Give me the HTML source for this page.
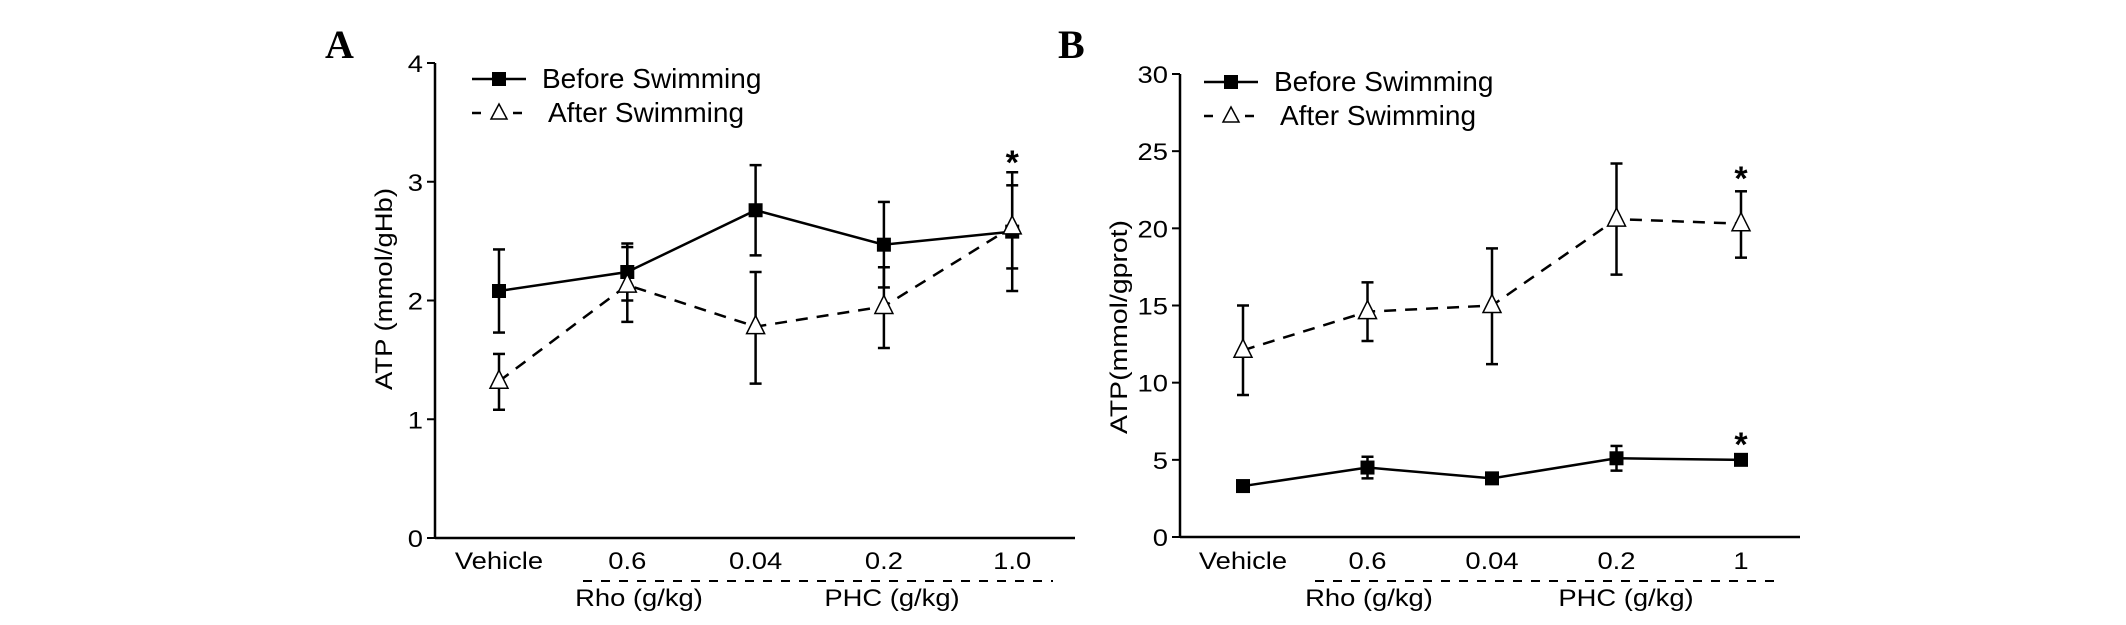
<!DOCTYPE html>
<html><head><meta charset="utf-8"><style>
html,body{margin:0;padding:0;background:#fff;}
svg{display:block;font-family:"Liberation Sans",Arial,sans-serif;}
</style></head><body>
<svg id="chart" width="2126" height="625" viewBox="0 0 2126 625"></svg>
<script>
const categories = ["Vehicle","0.6","0.04","0.2","1.0"];
const categoriesB = ["Vehicle","0.6","0.04","0.2","1"];
const beforeA = [2.08,2.24,2.76,2.47,2.58];
const beforeAErr = [0.35,0.24,0.38,0.36,0.5];
const afterA = [1.32,2.13,1.78,1.95,2.62];
const afterAErrHi = [0.23,0.32,0.46,0.33,0.35];
const afterAErrLo = [0.24,0.31,0.48,0.35,0.35];
const ticksA = [0,1,2,3,4];
const beforeB = [3.3,4.5,3.8,5.1,5.0];
const beforeBErr = [0.3,0.7,0.3,0.8,0.2];
const afterB = [12.1,14.6,15.0,20.6,20.3];
const afterBErrHi = [2.9,1.9,3.7,3.6,2.1];
const afterBErrLo = [2.9,1.9,3.8,3.6,2.2];
const ticksB = [0,5,10,15,20,25,30];

const NS="http://www.w3.org/2000/svg";
const svg=document.getElementById('chart');
const stretch=[];
function mk(tag,attrs,parent,text){const e=document.createElementNS(NS,tag);for(const k in attrs)e.setAttribute(k,attrs[k]);if(text!==undefined)e.textContent=text;(parent||svg).appendChild(e);return e;}
function tx(attrs,parent,text,target){const e=mk('text',attrs,parent,text);stretch.push([e,target]);return e;}

function panel(o){
  const g=mk('g',{});
  
  
  const y=v=>o.y0-(v-o.vmin)/(o.vmax-o.vmin)*(o.y0-o.y1);
  const x=i=>o.cx0+i*o.step;
  const lt=mk('text',{x:o.lx,y:o.ly,'font-family':'Liberation Serif,serif','font-weight':'bold','font-size':40},g,o.letter);
  
  const ya=mk('line',{x1:o.ax,y1:o.y1,x2:o.ax,y2:o.y0,stroke:'#000','stroke-width':2.5},g);
  
  const xa=mk('line',{x1:o.ax,y1:o.y0,x2:o.xend,y2:o.y0,stroke:'#000','stroke-width':2.5},g);
  
  o.ticks.forEach(t=>{
    mk('line',{x1:o.ax-8,y1:y(t),x2:o.ax,y2:y(t),stroke:'#000','stroke-width':2},g);
    const tl=tx({x:o.ax-12,y:y(t)+9,'text-anchor':'end','font-size':24},g,t);
    
  });
  o.cats.forEach((c,i)=>{
    const tl=tx({x:x(i),y:569,'text-anchor':'middle','font-size':24},g,c);
    
  });
  const yt=tx({x:o.ytx,y:o.yty,'text-anchor':'middle','font-size':24,transform:`rotate(-90 ${o.ytx} ${o.yty})`},g,o.ytitle,o.ytlen);
  
  const dl=mk('line',{x1:o.dx1,y1:581,x2:o.dx2,y2:581,stroke:'#000','stroke-width':2,'stroke-dasharray':'9,9'},g);
  
  const r=tx({x:o.rho,y:606,'text-anchor':'middle','font-size':24},g,'Rho (g/kg)');
  
  const p=tx({x:o.phc,y:606,'text-anchor':'middle','font-size':24},g,'PHC (g/kg)');
  
  function eb(i,hi,lo,name){
    const e=mk('g',{stroke:'#000','stroke-width':2.5},g);
    
    mk('line',{x1:x(i),y1:y(hi),x2:x(i),y2:y(lo)},e);
    mk('line',{x1:x(i)-6,y1:y(hi),x2:x(i)+6,y2:y(hi)},e);
    mk('line',{x1:x(i)-6,y1:y(lo),x2:x(i)+6,y2:y(lo)},e);
  }
  o.after.forEach((v,i)=>eb(i,v+o.aHi[i],v-o.aLo[i],'after-error-bar'));
  o.before.forEach((v,i)=>eb(i,v+o.bErr[i],v-o.bErr[i],'before-error-bar'));
  const la=mk('polyline',{points:o.after.map((v,i)=>x(i)+','+y(v)).join(' '),fill:'none',stroke:'#000','stroke-width':2.5,'stroke-dasharray':'12,9'},g);
  
  const lb=mk('polyline',{points:o.before.map((v,i)=>x(i)+','+y(v)).join(' '),fill:'none',stroke:'#000','stroke-width':2.5},g);
  
  o.before.forEach((v,i)=>{
    const m=mk('rect',{x:x(i)-7,y:y(v)-7,width:14,height:14,fill:'#000'},g);
    
  });
  o.after.forEach((v,i)=>{
    const m=mk('polygon',{points:`${x(i)},${y(v)-11} ${x(i)-9},${y(v)+7} ${x(i)+9},${y(v)+7}`,fill:'#fff',stroke:'#000','stroke-width':1.5},g);
    
  });
  o.stars.forEach(s=>{
    const st=mk('text',{x:x(4),y:s+18,'text-anchor':'middle','font-size':34,'font-weight':'bold'},g,'*');
    
  });
  const lg=mk('g',{},g);
  
  const e1=mk('g',{},lg);
  mk('line',{x1:o.legx-27,y1:o.legy,x2:o.legx+27,y2:o.legy,stroke:'#000','stroke-width':2.5},e1);
  mk('rect',{x:o.legx-7,y:o.legy-7,width:14,height:14,fill:'#000'},e1);
  mk('text',{x:o.legtx,y:o.legy+9,'font-size':28},e1,'Before Swimming');
  const e2=mk('g',{},lg);
  const ly2=o.legy+34;
  mk('line',{x1:o.legx-27,y1:ly2,x2:o.legx-18,y2:ly2,stroke:'#000','stroke-width':2.5},e2);
  mk('line',{x1:o.legx+14,y1:ly2,x2:o.legx+23,y2:ly2,stroke:'#000','stroke-width':2.5},e2);
  mk('polygon',{points:`${o.legx},${ly2-9} ${o.legx-8},${ly2+6} ${o.legx+8},${ly2+6}`,fill:'#fff',stroke:'#000','stroke-width':1.5},e2);
  mk('text',{x:o.legtx2,y:ly2+9,'font-size':28},e2,o.afterLabel);
}
panel({name:'panel-a',letter:'A',lx:325,ly:58,ax:435,xend:1075,y0:538,y1:63,vmin:0,vmax:4,ticks:ticksA,
  cx0:499,step:128.3,cats:categories,before:beforeA,bErr:beforeAErr,after:afterA,aHi:afterAErrHi,aLo:afterAErrLo,
  ytitle:'ATP (mmol/gHb)',ytx:392,yty:289,ytlen:202,dx1:583,dx2:1053,rho:639,phc:892,stars:[156],
  legx:499,legy:79,legtx:542,legtx2:548,afterLabel:'After Swimming'});
panel({name:'panel-b',letter:'B',lx:1058,ly:58,ax:1180,xend:1800,y0:537,y1:74,vmin:0,vmax:30,ticks:ticksB,
  cx0:1243,step:124.5,cats:categoriesB,before:beforeB,bErr:beforeBErr,after:afterB,aHi:afterBErrHi,aLo:afterBErrLo,
  ytitle:'ATP(mmol/gprot)',ytx:1127,yty:327,ytlen:214,dx1:1315,dx2:1774,rho:1369,phc:1626,stars:[172,438],
  legx:1231,legy:82,legtx:1274,legtx2:1280,afterLabel:'After   Swimming'});
stretch.forEach(([e,t])=>{
  const n=e.getComputedTextLength();
  e.setAttribute('textLength',t||n*1.14);
  e.setAttribute('lengthAdjust','spacingAndGlyphs');
});
</script>
</body></html>
